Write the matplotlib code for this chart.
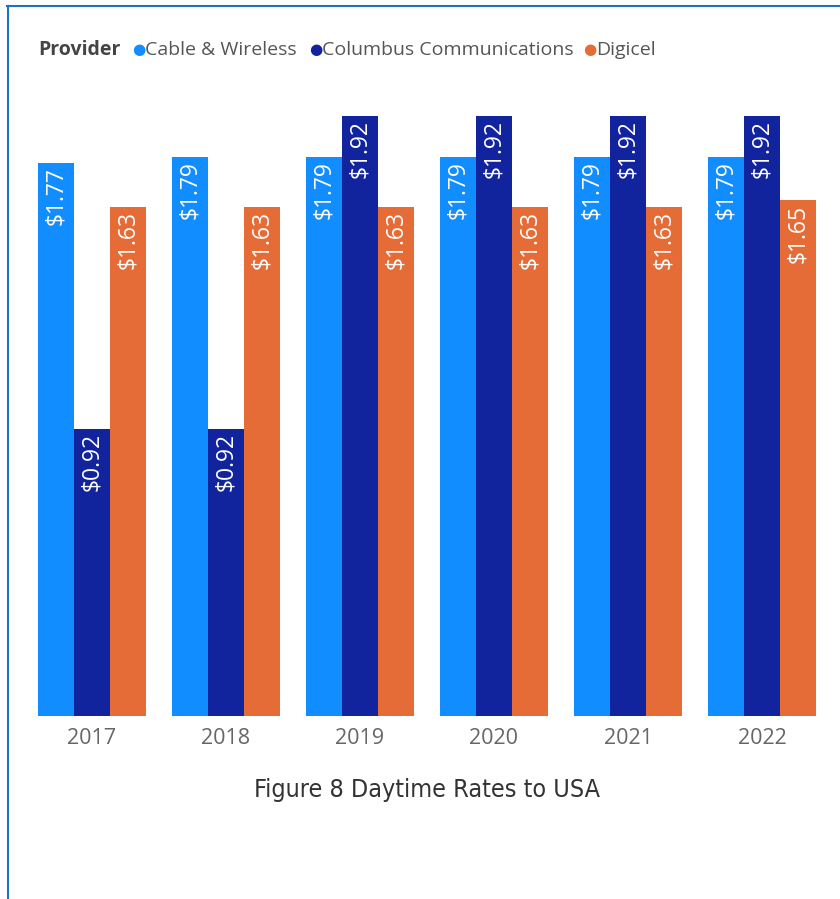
import matplotlib.pyplot as plt
import matplotlib.lines as mlines
import numpy as np

years = ['2017', '2018', '2019', '2020', '2021', '2022']
providers = ['Cable & Wireless', 'Columbus Communications', 'Digicel']
cable_wireless = [1.77, 1.79, 1.79, 1.79, 1.79, 1.79]
columbus = [0.92, 0.92, 1.92, 1.92, 1.92, 1.92]
digicel = [1.63, 1.63, 1.63, 1.63, 1.63, 1.65]
colors = ['#118DFF', '#12239E', '#E66C37']

W, H = 840, 899
plt.rcParams['font.family'] = ['Open Sans', 'DejaVu Sans']
fig = plt.figure(figsize=(W / 100, H / 100), dpi=100)

# axes placed in pixel terms: x from 25 to 829, baseline at y=716, top at y=100
px_per_unit = 600 / 1.92
top_px = 100
ax = fig.add_axes([25 / W, (H - 716) / H, (829 - 25) / W, (716 - top_px) / H])
ax.set_xlim(-0.5, 5.5)
ax.set_ylim(0, (716 - top_px) / px_per_unit)

x = np.arange(len(years))
bw = 36 / 134
series = [cable_wireless, columbus, digicel]
for k, (vals, col) in enumerate(zip(series, colors)):
    pos = x + (k - 1) * bw
    ax.bar(pos, vals, width=bw, color=col, edgecolor='none')
    for xp, v in zip(pos, vals):
        ax.text(xp, v - 0.013, f'${v:.2f}', rotation=90, ha='center', va='top',
                color='white', fontsize=16.5)

ax.set_xticks(x)
ax.set_xticklabels(years, fontsize=15.5, color='#666666')
ax.tick_params(axis='x', length=0, pad=9)
ax.set_yticks([])
for s in ax.spines.values():
    s.set_visible(False)

# legend row
ly = 1 - 50 / H
fig.text(38 / W, ly, 'Provider', fontsize=14, fontweight='bold', color='#444444', va='center')
legend_x = [139, 316, 590]
for lx, name, col in zip(legend_x, providers, colors):
    fig.text(lx / W, ly, '\u25CF', fontsize=11, color=col, va='center', ha='center')
    fig.text((lx + 6) / W, ly, name, fontsize=14, color='#555555', va='center')

fig.text(427 / W, 1 - 790 / H, 'Figure 8 Daytime Rates to USA', fontsize=18,
         color='#333333', ha='center', va='center', family='DejaVu Sans', stretch='condensed')

# blue frame lines
fig.add_artist(mlines.Line2D([7 / W, 1], [1 - 6 / H, 1 - 6 / H], color='#1E73BE', lw=1.5))
fig.add_artist(mlines.Line2D([8 / W, 8 / W], [0, 1 - 6 / H], color='#1E73BE', lw=1.5))

fig.savefig('out.png', dpi=100)
